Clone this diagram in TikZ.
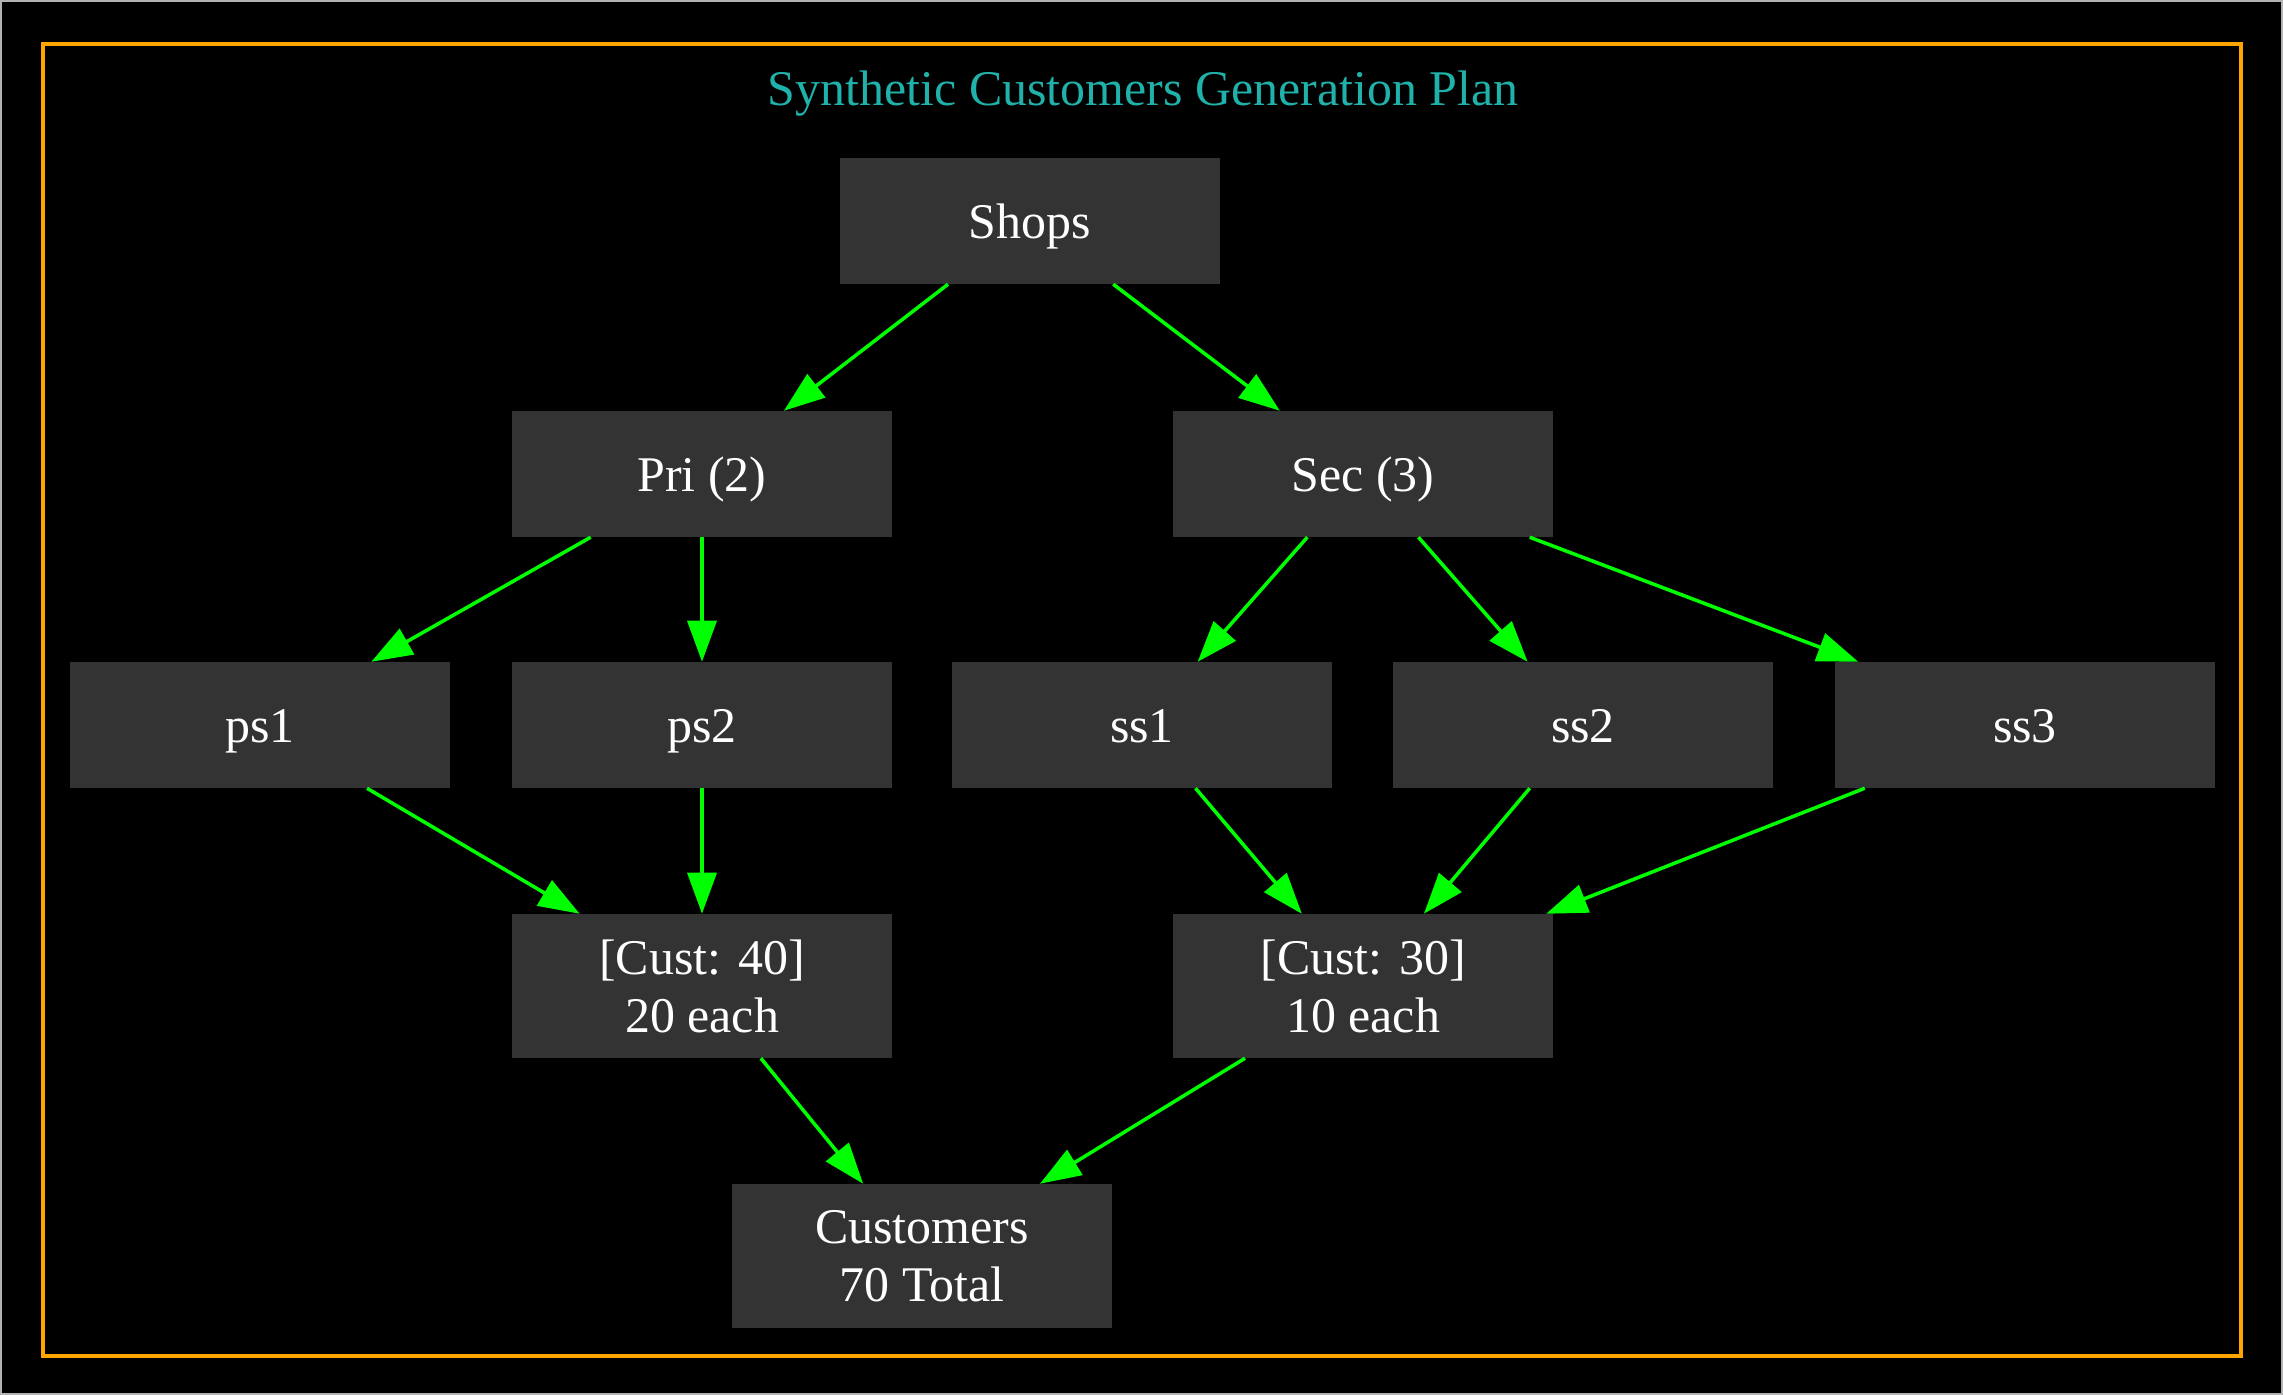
\documentclass[tikz,border=0pt]{standalone}
\usepackage{fontspec}
\setmainfont{Liberation Serif}
\usetikzlibrary{arrows.meta}
\definecolor{boxgray}{HTML}{333333}
\definecolor{edgegreen}{HTML}{00FF00}
\definecolor{frameorange}{HTML}{FFA500}
\definecolor{titleteal}{HTML}{20B2AA}

\begin{document}
\begin{tikzpicture}[x=0.01cm, y=-0.01cm,
  base/.style = {fill=boxgray, draw=boxgray, text=white, minimum width=3.78cm, inner sep=0pt, align=center, font=\fontsize{14.2}{16.5}\selectfont},
  box/.style = {base, minimum height=1.25cm, text height=0.36cm, text depth=0.02cm},
  tallbox/.style = {base, minimum height=1.43cm},
  flow/.style = {draw=edgegreen, line width=1pt, -{Triangle[length=0.41cm, width=0.29cm]}}]
% page and frame
\fill[black] (0,0) rectangle (2283,1395);
\useasboundingbox (0,0) rectangle (2283,1395);
\draw[gray!60, line width=0.5pt] (1,1) rectangle (2282,1394);
\draw[frameorange, line width=1pt] (43,44) rectangle (2241,1356);
\node[anchor=base, text=titleteal, font=\fontsize{14.2}{16.5}\selectfont] (title) at (1143,106) {Synthetic Customers Generation Plan};
% nodes
\node[box] (shops) at (1030,221) {Shops};
\node[box] (pri) at (702,474) {Pri (2)};
\node[box] (sec) at (1363,474) {Sec (3)};
\node[box] (ps1) at (260,725) {ps1};
\node[box] (ps2) at (702,725) {ps2};
\node[box] (ss1) at (1142,725) {ss1};
\node[box] (ss2) at (1583,725) {ss2};
\node[box] (ss3) at (2025,725) {ss3};
\node[tallbox] (pcust) at (702,986) {[Cust: 40]\\20 each};
\node[tallbox] (scust) at (1363,986) {[Cust: 30]\\10 each};
\node[tallbox] (cust) at (922,1256) {Customers\\70 Total};
% edges
\draw[flow] (shops) -- (pri);
\draw[flow] (shops) -- (sec);
\draw[flow] (pri) -- (ps1);
\draw[flow] (pri) -- (ps2);
\draw[flow] (sec) -- (ss1);
\draw[flow] (sec) -- (ss2);
\draw[flow] (sec) -- (ss3);
\draw[flow] (ps1) -- (pcust);
\draw[flow] (ps2) -- (pcust);
\draw[flow] (ss1) -- (scust);
\draw[flow] (ss2) -- (scust);
\draw[flow] (ss3) -- (scust);
\draw[flow] (pcust) -- (cust);
\draw[flow] (scust) -- (cust);
\end{tikzpicture}
\end{document}
